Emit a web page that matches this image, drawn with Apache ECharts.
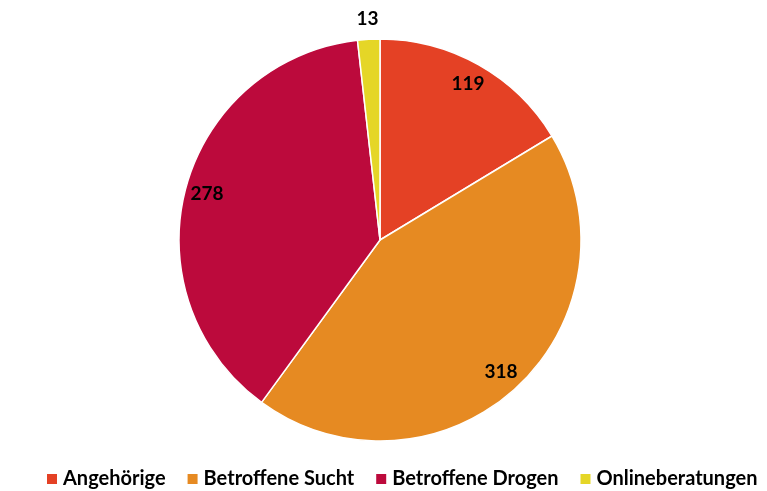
<!DOCTYPE html>
<html><head><meta charset="utf-8">
<script src="https://cdn.jsdelivr.net/npm/echarts@6/dist/echarts.min.js"></script>
<style>html,body{margin:0;padding:0;background:#fff}#c{width:767px;height:491px}</style>
</head><body><div id="c"></div>
<script>
const categories = ['Angehörige', 'Betroffene Sucht', 'Betroffene Drogen', 'Onlineberatungen'];
const values = [119, 318, 278, 13];
const colors = ['#E44125', '#E68A22', '#BC0A3C', '#E5D627'];
const outsideLabel = ['Onlineberatungen'];

const chart = echarts.init(document.getElementById('c'), null, {renderer: 'canvas'});
const base = categories.map((n, i) => ({name: n, value: values[i], itemStyle: {color: colors[i]}}));
const labelFont = {fontFamily: 'Lato', fontWeight: 'bold', fontSize: 19, color: '#000'};
chart.setOption({
  animation: false,
  legend: {
    data: categories, top: 464, left: 40, itemWidth: 12, itemHeight: 12, itemGap: 20,
    icon: 'rect', textStyle: {fontFamily: 'Lato', fontWeight: 'bold', fontSize: 20, color: '#000', padding: [0, 0, 0, 0]}
  },
  series: [
    {type: 'pie', center: [380, 240], radius: [0, 201], startAngle: 90, clockwise: true,
     itemStyle: {borderColor: '#fff', borderWidth: 1.5}, label: {show: false}, labelLine: {show: false},
     data: base},
    {type: 'pie', center: [380, 240], radius: [150, 202], startAngle: 90, clockwise: true, silent: true,
     itemStyle: {color: 'rgba(0,0,0,0)'}, labelLine: {show: false},
     label: Object.assign({show: true, position: 'inside', formatter: '{c}'}, labelFont),
     data: base.map(d => ({name: d.name, value: d.value, itemStyle: {color: 'rgba(0,0,0,0)'},
       label: {show: !outsideLabel.includes(d.name)}}))},
    {type: 'pie', center: [380, 240], radius: [206, 230], startAngle: 90, clockwise: true, silent: true,
     itemStyle: {color: 'rgba(0,0,0,0)'}, labelLine: {show: false},
     label: Object.assign({show: true, position: 'inside', formatter: '{c}'}, labelFont),
     data: base.map(d => ({name: d.name, value: d.value, itemStyle: {color: 'rgba(0,0,0,0)'},
       label: {show: outsideLabel.includes(d.name)}}))}
  ]
});
</script></body></html>
